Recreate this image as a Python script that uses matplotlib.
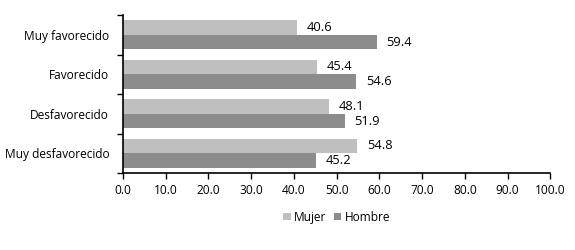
import matplotlib
matplotlib.use("Agg")
import matplotlib.pyplot as plt
import numpy as np

categories = ["Muy desfavorecido", "Desfavorecido", "Favorecido", "Muy favorecido"]
mujer = [54.8, 48.1, 45.4, 40.6]
hombre = [45.2, 51.9, 54.6, 59.4]
xticks = [0, 10, 20, 30, 40, 50, 60, 70, 80, 90, 100]

plt.rcParams['font.family'] = ['Open Sans', 'DejaVu Sans']
plt.rcParams['font.size'] = 8.6

fig = plt.figure(figsize=(5.75, 2.5), dpi=100)
ax = fig.add_axes([0.214, 0.308, 0.743, 0.632])

y = np.arange(len(categories))
h = 0.37
c_m = "#bfbfbf"
c_h = "#8c8c8c"

bm = ax.barh(y + h / 2, mujer, height=h, color=c_m, label="Mujer")
bh = ax.barh(y - h / 2, hombre, height=h, color=c_h, label="Hombre")

for rect, v in zip(bm, mujer):
    ax.text(v + 2.3, rect.get_y() + rect.get_height() / 2, f"{v:.1f}",
            va="center", ha="left", fontsize=9.3)
for rect, v in zip(bh, hombre):
    ax.text(v + 2.3, rect.get_y() + rect.get_height() / 2, f"{v:.1f}",
            va="center", ha="left", fontsize=9.3)

ax.set_xlim(0, 100)
ax.set_ylim(-0.5, len(categories) - 0.5)
ax.set_xticks(xticks)
ax.set_xticklabels([f"{t:.1f}" for t in xticks])
ax.set_yticks(y)
ax.set_yticklabels(categories)
ax.set_yticks(np.arange(-0.5, len(categories)), minor=True)
ax.tick_params(axis="y", which="major", length=0, pad=10)
ax.tick_params(axis="y", which="minor", length=4, direction="out", width=1)
ax.tick_params(axis="x", length=4, direction="out", width=1, pad=4)

for s in ["top", "right"]:
    ax.spines[s].set_visible(False)
for s in ["left", "bottom"]:
    ax.spines[s].set_linewidth(1.2)
    ax.spines[s].set_color("black")

ax.legend(loc="upper center", bbox_to_anchor=(0.5, -0.17), ncol=2, frameon=False,
          handlelength=0.6, handleheight=0.6, handletextpad=0.3, columnspacing=0.6,
          fontsize=8.6)

fig.savefig("out.png", dpi=100)
